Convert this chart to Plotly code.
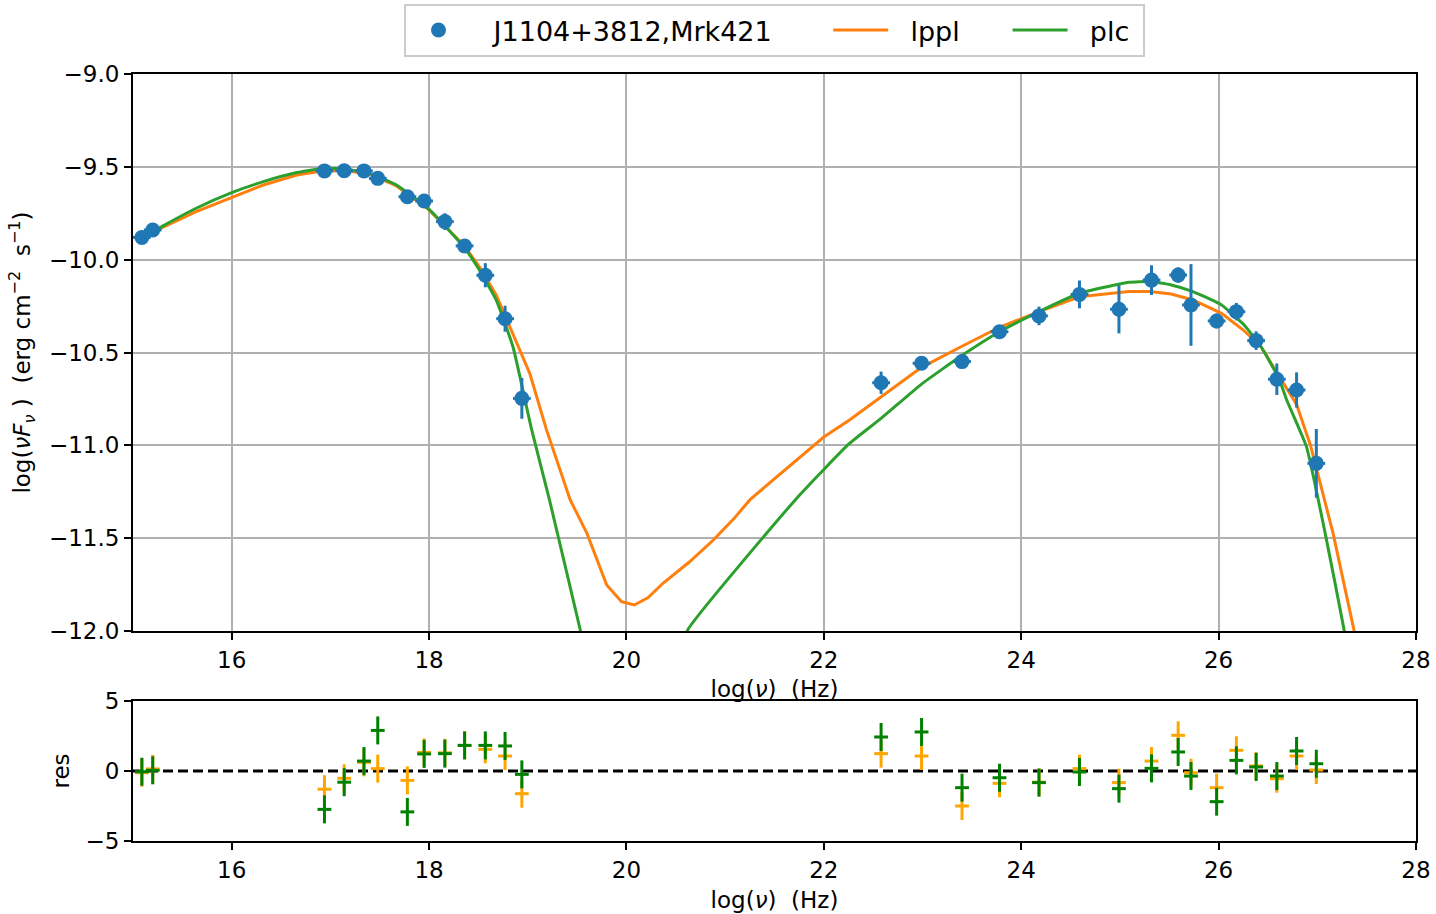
import plotly.graph_objects as go

# ---------------- data ----------------
x_obs = [15.09, 15.20, 16.94, 17.14, 17.34, 17.48, 17.78, 17.95, 18.16, 18.36, 18.57, 18.77, 18.94,
         22.58, 22.99, 23.40, 23.78, 24.18, 24.59, 24.99, 25.32, 25.59, 25.72, 25.98, 26.18, 26.38,
         26.59, 26.79, 26.99]
y_obs = [-9.880, -9.840, -9.522, -9.521, -9.522, -9.562, -9.661, -9.684, -9.795, -9.926, -10.084,
         -10.318, -10.747, -10.663, -10.558, -10.549, -10.388, -10.303, -10.187, -10.267, -10.110,
         -10.083, -10.244, -10.330, -10.280, -10.436, -10.644, -10.702, -11.097]
yerr_obs = [0.02, 0.02, 0.02, 0.02, 0.02, 0.02, 0.02, 0.02, 0.045, 0.03, 0.065, 0.07, 0.11,
            0.06, 0.02, 0.02, 0.02, 0.05, 0.075, 0.13, 0.08, 0.042, 0.22, 0.04, 0.047, 0.05,
            0.085, 0.095, 0.185]
xerr_obs = 0.09

lppl_x = [15.21, 15.30, 15.64, 16.00, 16.32, 16.66, 16.93, 17.16, 17.40, 17.67, 18.00, 18.35,
          18.51, 18.68, 18.82, 19.02, 19.19, 19.43, 19.60, 19.80, 19.95, 20.08, 20.22, 20.37,
          20.64, 20.88, 21.08, 21.25, 21.40, 21.66, 22.00, 22.26, 22.58, 22.99, 23.39, 23.78,
          24.18, 24.59, 25.09, 25.30, 25.52, 25.74, 26.03, 26.25, 26.43, 26.61, 26.79, 26.93,
          27.16, 27.37, 27.45]
lppl_y = [-9.846, -9.826, -9.741, -9.664, -9.598, -9.544, -9.521, -9.521, -9.539, -9.603, -9.732,
          -9.921, -10.038, -10.190, -10.360, -10.612, -10.917, -11.294, -11.474, -11.752, -11.842,
          -11.860, -11.820, -11.743, -11.627, -11.510, -11.400, -11.294, -11.225, -11.106, -10.955,
          -10.864, -10.738, -10.580, -10.469, -10.364, -10.280, -10.200, -10.172, -10.172, -10.185,
          -10.217, -10.289, -10.379, -10.469, -10.621, -10.780, -10.998, -11.474, -11.991, -12.200]

plc_x = [15.21, 15.30, 15.64, 16.00, 16.32, 16.66, 16.93, 17.16, 17.40, 17.67, 18.00, 18.35,
         18.51, 18.68, 18.85, 19.04, 19.22, 19.53, 19.60, 20.10, 20.55, 20.62, 21.71, 22.00,
         22.26, 22.58, 22.99, 23.39, 23.78, 24.18, 24.59, 25.09, 25.30, 25.52, 25.74, 26.03,
         26.25, 26.43, 26.61, 26.69, 26.89, 27.08, 27.27, 27.33]
plc_y = [-9.846, -9.819, -9.723, -9.639, -9.580, -9.531, -9.508, -9.513, -9.535, -9.598, -9.729,
         -9.930, -10.056, -10.217, -10.469, -10.917, -11.294, -11.990, -12.150, -13.000, -12.150,
         -11.995, -11.294, -11.130, -10.990, -10.855, -10.670, -10.519, -10.388, -10.280, -10.181,
         -10.122, -10.118, -10.136, -10.172, -10.244, -10.347, -10.469, -10.639, -10.756, -11.007,
         -11.474, -11.990, -12.200]

res_lppl = [-0.12, 0.15, -1.30, -0.52, 0.62, 0.17, -0.67, 1.33, 1.30, 1.83, 1.55, 1.07, -1.62,
            1.24, 1.07, -2.50, -0.88, -0.80, 0.17, -0.83, 0.71, 2.55, -0.12, -1.19, 1.48, 0.36,
            -0.55, 1.07, 0.07]
res_plc = [-0.05, 0.05, -2.74, -0.80, 0.71, 2.90, -2.92, 1.22, 1.24, 1.83, 1.83, 1.79, -0.24,
           2.43, 2.79, -1.19, -0.48, -0.83, -0.07, -1.26, 0.19, 1.36, -0.36, -2.19, 0.76, 0.29,
           -0.36, 1.43, 0.52]
res_err = 1.0
res_xerr = 0.07

x_ticks = [16, 18, 20, 22, 24, 26, 28]
x_range = [15, 28]
y_range = [-12, -9]
res_range = [-5, 5]
zero_x = [15, 28]
zero_y = [0, 0]

names = ["J1104+3812,Mrk421", "lppl", "plc"]

BLUE = "#1f77b4"
ORANGE = "#ff7f0e"
GREEN = "#2ca02c"
FONT = "DejaVu Sans"
NB = "\u00a0"
TS = "\u2009"

fig = go.Figure()

fig.add_trace(go.Scatter(x=lppl_x, y=lppl_y, mode="lines", name=NB * 2 + names[1] + NB * 5,
                         line=dict(color=ORANGE, width=3), legendrank=2,
                         xaxis="x", yaxis="y"))
fig.add_trace(go.Scatter(x=plc_x, y=plc_y, mode="lines", name=NB * 2 + names[2] + NB,
                         line=dict(color=GREEN, width=3, shape="spline", smoothing=0.4), legendrank=3,
                         xaxis="x", yaxis="y"))
fig.add_trace(go.Scatter(x=x_obs, y=y_obs, mode="markers", name=NB * 2 + TS + names[0] + NB * 6,
                         marker=dict(color=BLUE, size=15), legendrank=1,
                         error_y=dict(type="data", array=yerr_obs, color=BLUE, thickness=3, width=0),
                         error_x=dict(type="constant", value=xerr_obs, color=BLUE, thickness=3, width=0),
                         xaxis="x", yaxis="y"))

fig.add_trace(go.Scatter(x=zero_x, y=zero_y, mode="lines", showlegend=False,
                         line=dict(color="black", width=3, dash="10px,5px"),
                         xaxis="x2", yaxis="y2"))
fig.add_trace(go.Scatter(x=x_obs, y=res_lppl, mode="markers", showlegend=False,
                         marker=dict(color="orange", size=1, opacity=0),
                         error_y=dict(type="constant", value=res_err, color="orange", thickness=3, width=0),
                         error_x=dict(type="constant", value=res_xerr, color="orange", thickness=3, width=0),
                         xaxis="x2", yaxis="y2"))
fig.add_trace(go.Scatter(x=x_obs, y=res_plc, mode="markers", showlegend=False,
                         marker=dict(color="green", size=1, opacity=0),
                         error_y=dict(type="constant", value=res_err, color="green", thickness=3, width=0),
                         error_x=dict(type="constant", value=res_xerr, color="green", thickness=3, width=0),
                         xaxis="x2", yaxis="y2"))

FS = 23
axis_common = dict(showline=True, linecolor="black", linewidth=2, mirror=True,
                   ticks="outside", ticklen=7, tickwidth=1.5, tickcolor="black",
                   tickfont=dict(family=FONT, size=FS, color="black"), zeroline=False,
                   automargin=False)

xtitle = "log(<i>ν</i>)" + NB * 2 + "(Hz)"

fig.update_layout(
    width=1436, height=914,
    margin=dict(l=133, r=20, t=74, b=73, autoexpand=False),
    paper_bgcolor="white", plot_bgcolor="white",
    font=dict(family=FONT, color="black"),
    xaxis=dict(domain=[0, 1], range=x_range, tickvals=x_ticks, anchor="y",
               showgrid=True, gridcolor="#b0b0b0", gridwidth=1.5,
               title=dict(text=xtitle, font=dict(family=FONT, size=FS), standoff=9),
               **axis_common),
    yaxis=dict(domain=[0.2738, 1], range=y_range, dtick=0.5, tickformat=".1f", anchor="x",
               showgrid=True, gridcolor="#b0b0b0", gridwidth=1.5,
               title=dict(text="log(<i>νF</i><sub><i>ν</i></sub> )" + NB * 2 + "(erg cm<sup>−2</sup>" + NB * 2 + "s<sup>−1</sup>)",
                          font=dict(family=FONT, size=FS), standoff=12),
               **axis_common),
    xaxis2=dict(domain=[0, 1], range=x_range, tickvals=x_ticks, anchor="y2",
                showgrid=False,
                title=dict(text=xtitle, font=dict(family=FONT, size=FS), standoff=10),
                **axis_common),
    yaxis2=dict(domain=[0, 0.1825], range=res_range, tickvals=[-5, 0, 5], anchor="x2",
                showgrid=False,
                title=dict(text="res", font=dict(family=FONT, size=FS), standoff=9),
                **axis_common),
    legend=dict(orientation="h", x=0.5, xanchor="center", y=1.0913, yanchor="top",
                bordercolor="#cccccc", borderwidth=2, bgcolor="white",
                font=dict(family=FONT, size=27, color="black"), itemwidth=55),
)

fig.write_html("out.html")
